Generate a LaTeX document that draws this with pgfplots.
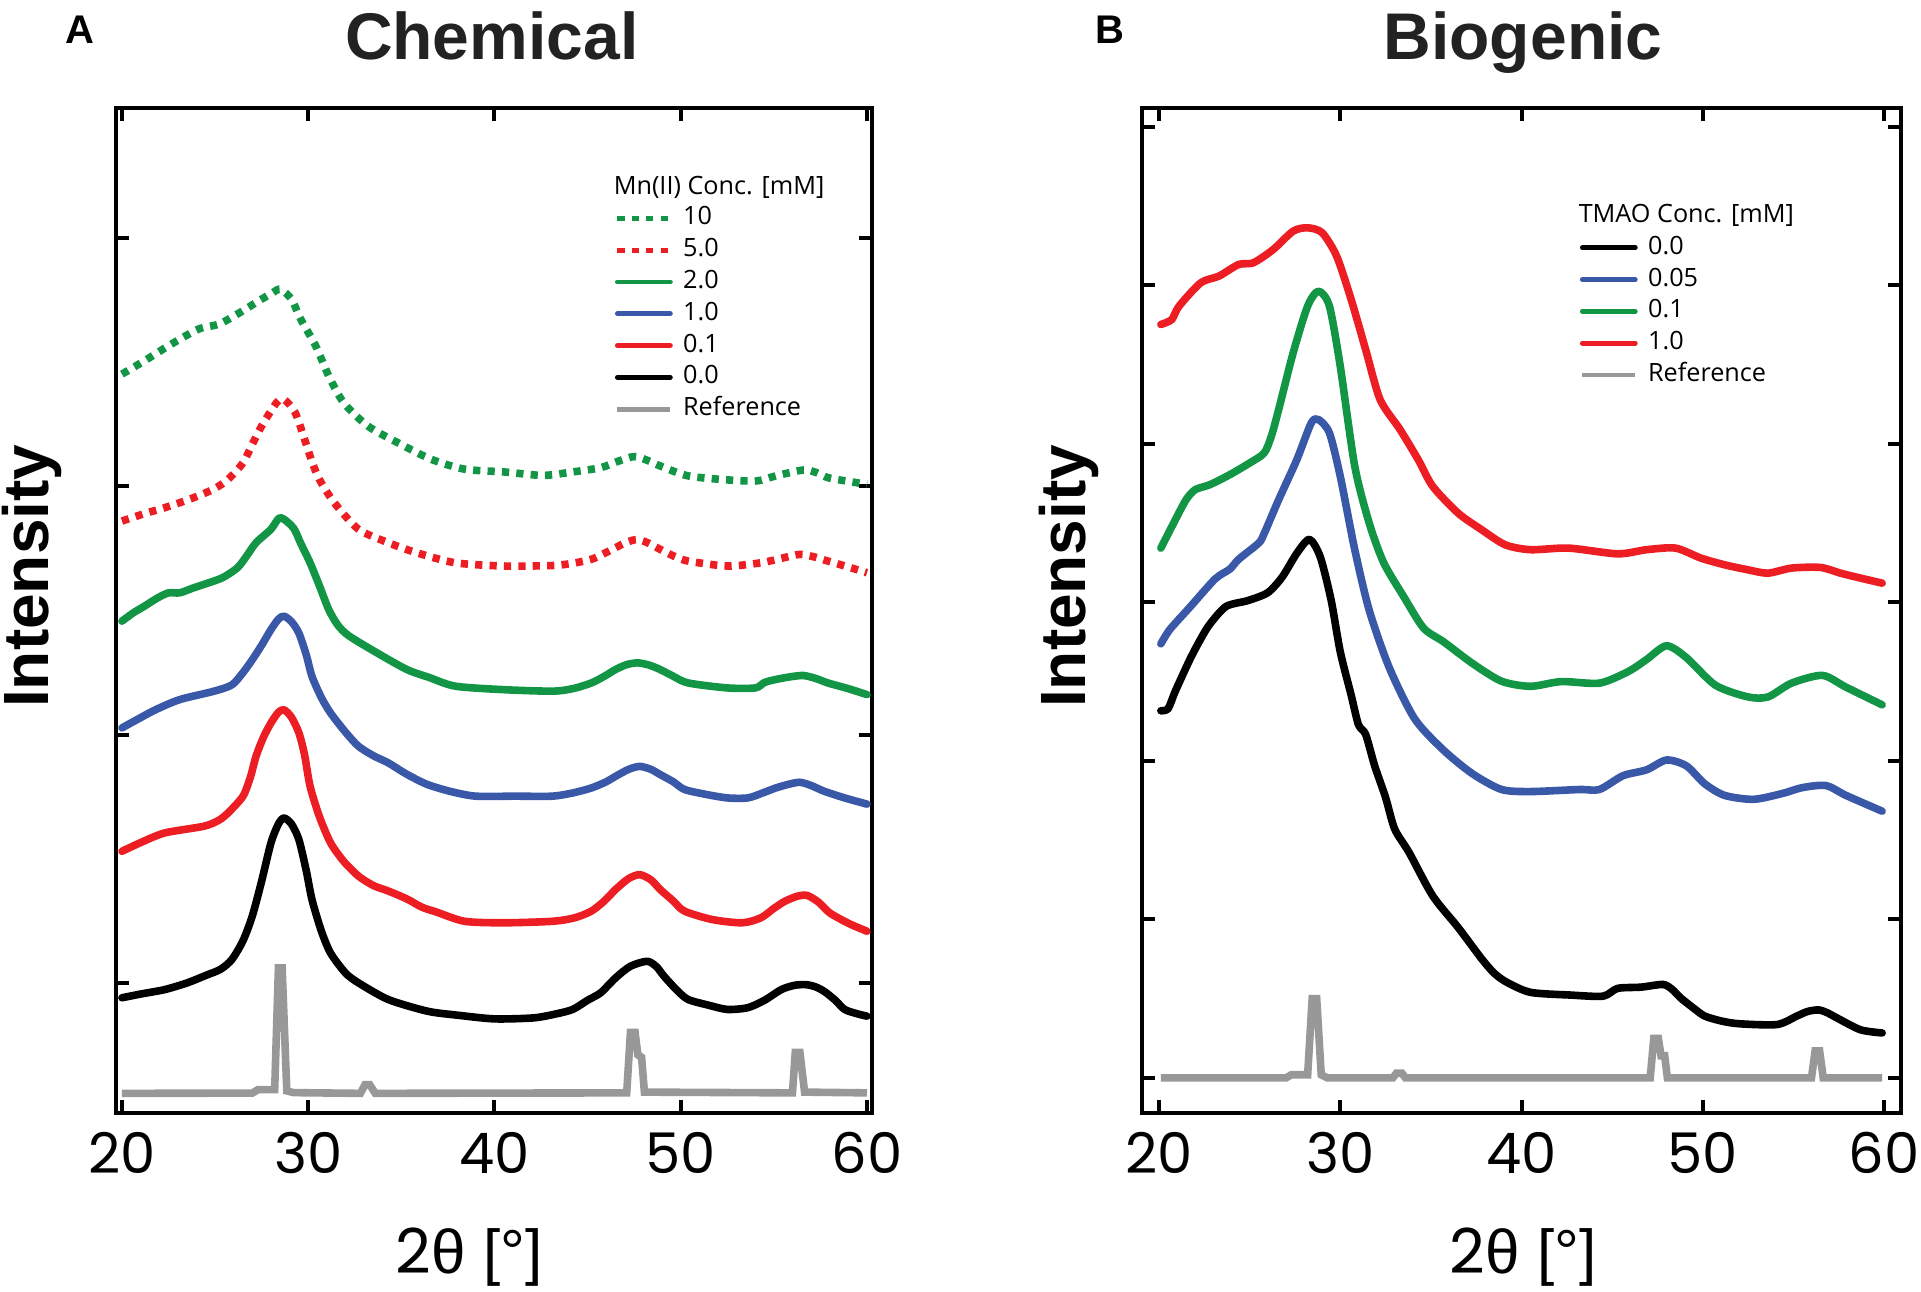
\documentclass[border=0pt]{standalone}
\usepackage{fontspec}
\usepackage{pgfplots}
\pgfplotsset{compat=1.18}
\newfontfamily\tickfont{Poppins}
\newfontfamily\legfont{Open Sans}
\newfontfamily\headfont{Liberation Sans}
\definecolor{cgreen}{RGB}{18,150,70}
\definecolor{cred}{RGB}{236,30,36}
\definecolor{cblue}{RGB}{58,88,168}
\definecolor{cgray}{RGB}{152,152,152}
\definecolor{ctitle}{RGB}{34,34,34}

\pgfplotsset{
  xrd/.style={
    scale only axis, width=189pt, height=251.25pt,
    axis line style={line width=1pt},
    major tick length=3.2pt,
    tick style={line width=1pt, black},
    xtick={20,30,40,50,60}, xticklabels={20,30,40,50,60},
    yticklabels={},
    xticklabel style={font=\tickfont\fontsize{14}{14}\selectfont, yshift=-1.3pt},
    ylabel={Intensity},
    ylabel style={font=\headfont\bfseries\fontsize{16}{16}\selectfont, anchor=center},
    xlabel={{\tickfont 2}{\headfont θ [°]}},
    xlabel style={font=\fontsize{15.5}{15.5}\selectfont, anchor=base, inner sep=0pt},
    title style={font=\headfont\bfseries\fontsize{16.5}{16.5}\selectfont, text=ctitle,
      anchor=base, inner sep=0pt, yshift=6pt},
    every axis plot/.append style={line width=1.9pt, line join=round, line cap=round},
    legend cell align=left,
    legend image code/.code={\draw[#1, line width=1.2pt] (0pt,0pt) -- (13.25pt,0pt);},
    legend style={draw=none, fill=none, inner sep=0pt, outer sep=0pt, row sep=0pt,
      font=\legfont\fontsize{6.3}{6.3}\selectfont,
      nodes={inner sep=0pt, text height=5.6pt, text depth=2.35pt},
      /tikz/every odd column/.append style={column sep=2.6pt}},
  },
  curve/.style={smooth, tension=0.45},
  dots/.style={smooth, tension=0.45, dash pattern=on 1.8pt off 1.8pt, line cap=butt},
  refline/.style={cgray, line width=1.9pt, line cap=butt, line join=miter},
}

\begin{document}
\begin{tikzpicture}
\path[use as bounding box] (0pt,0pt) rectangle (480.25pt,323pt);

% ---------------- A: Chemical ----------------
\begin{axis}[xrd, at={(29pt,44.75pt)}, anchor=south west,
  xmin=19.68, xmax=60.27, ymin=0.476, ymax=4.524, ytick={1,2,3,4},
  title={Chemical}, title style={at={(axis description cs:0.497,1)}},
  ylabel style={at={(axis description cs:-0.111,0.534)}},
  xlabel style={at={(axis description cs:0.467,-0.1602)}},
  legend style={at={(axis description cs:0.660,0.906)}, anchor=north west}]
\addplot[cgreen, dots] coordinates {
(20,3.452) (21.2,3.505) (22.5,3.566) (24.1,3.633) (25.2,3.653) (26.2,3.694)
(27.5,3.754) (28.1,3.78) (28.5,3.794) (29.1,3.754) (29.6,3.673) (30.4,3.566)
(31.1,3.445) (31.9,3.337) (33.2,3.243) (34.8,3.176) (36.6,3.109) (38.4,3.069)
(40.5,3.058) (42.6,3.044) (44.2,3.058) (45.7,3.075) (46.6,3.1) (47.5,3.12)
(48.2,3.105) (48.9,3.082) (50.4,3.042) (52.5,3.026) (54.1,3.022) (55.1,3.042)
(56.6,3.066) (57.3,3.055) (57.9,3.035) (59,3.02) (60,3.008)};
\addlegendentry{10}
\addplot[cred, dots] coordinates {
(20,2.86) (21.2,2.89) (22.3,2.914) (23.7,2.95) (24.9,2.988) (25.7,3.028)
(26.5,3.095) (27,3.17) (27.5,3.243) (28.3,3.337) (28.7,3.35) (29.3,3.297)
(29.8,3.19) (30.2,3.1) (30.6,3.028) (31.4,2.934) (32.7,2.827) (34.3,2.773)
(35.8,2.733) (37.9,2.692) (40.5,2.679) (43.1,2.681) (44.2,2.69) (45.2,2.706)
(45.9,2.73) (46.5,2.753) (47.1,2.775) (47.7,2.786) (48.3,2.77) (48.9,2.746)
(49.6,2.72) (50.4,2.699) (52.5,2.679) (54.3,2.692) (55.4,2.71) (56.4,2.726)
(57.2,2.715) (57.9,2.699) (59,2.675) (60,2.652)};
\addlegendentry{5.0}
\addplot[cgreen, curve] coordinates {
(20,2.457) (20.6,2.49) (21.2,2.517) (21.9,2.55) (22.5,2.571) (23.1,2.571)
(23.8,2.59) (24.4,2.605) (25.4,2.632) (26.2,2.672) (26.7,2.72) (27.2,2.773)
(28,2.827) (28.5,2.874) (29.2,2.833) (29.6,2.77) (30.1,2.692) (30.6,2.6)
(31.1,2.504) (31.6,2.44) (32.2,2.397) (33.7,2.329) (35.3,2.262) (36.5,2.23)
(37.9,2.195) (40.5,2.181) (43.1,2.175) (44.2,2.185) (45.2,2.208) (45.9,2.235)
(46.5,2.262) (47.1,2.282) (47.7,2.289) (48.3,2.28) (48.9,2.262) (49.6,2.235)
(50.4,2.208) (52.5,2.188) (54,2.188) (54.5,2.21) (55.1,2.222) (55.9,2.233)
(56.6,2.238) (57.3,2.225) (57.9,2.208) (59,2.185) (60,2.161)};
\addlegendentry{2.0}
\addplot[cblue, curve] coordinates {
(20,2.027) (20.8,2.06) (21.8,2.10) (23.1,2.141) (24.9,2.174) (25.9,2.2)
(26.5,2.25) (27,2.302) (27.5,2.36) (28,2.423) (28.4,2.465) (28.7,2.477)
(29.1,2.455) (29.5,2.409) (29.9,2.32) (30.2,2.235) (30.7,2.15) (31.2,2.087)
(32,2.01) (32.7,1.953) (33.5,1.915) (34.3,1.886) (35.3,1.84) (36.4,1.799)
(37.7,1.77) (39,1.752) (41.1,1.752) (43.1,1.752) (44.2,1.765) (45.2,1.785)
(46,1.81) (46.5,1.832) (47.2,1.86) (47.8,1.872) (48.4,1.86) (48.9,1.839)
(49.6,1.81) (50.2,1.779) (51.3,1.76) (52.5,1.745) (53.6,1.745) (54.4,1.765)
(55.1,1.785) (55.8,1.80) (56.4,1.808) (57,1.795) (57.7,1.772) (58.8,1.745)
(60,1.72)};
\addlegendentry{1.0}
\addplot[cred, curve] coordinates {
(20,1.53) (21,1.565) (22.3,1.604) (24.4,1.631) (25.2,1.655) (25.7,1.685)
(26.5,1.752) (26.9,1.83) (27.2,1.913) (27.6,1.99) (28,2.047) (28.4,2.09)
(28.7,2.10) (29.1,2.07) (29.5,2.007) (29.8,1.92) (30.1,1.792) (30.6,1.67)
(31.2,1.564) (31.9,1.49) (32.7,1.43) (33.5,1.392) (34.3,1.37) (35.3,1.338)
(36.1,1.305) (36.9,1.285) (38.4,1.248) (40.5,1.242) (43.1,1.248) (44.3,1.262)
(45.2,1.289) (45.9,1.33) (46.5,1.376) (47.2,1.42) (47.8,1.436) (48.4,1.415)
(48.9,1.376) (49.6,1.33) (50.2,1.289) (51.7,1.255) (53.3,1.242) (54.3,1.262)
(55,1.3) (55.6,1.329) (56.3,1.35) (56.8,1.352) (57.4,1.325) (58,1.282)
(59,1.24) (60,1.208)};
\addlegendentry{0.1}
\addplot[black, curve] coordinates {
(20,0.94) (21,0.955) (22.3,0.973) (23.5,1.0) (24.5,1.03) (25.3,1.055)
(25.9,1.094) (26.5,1.17) (27,1.27) (27.5,1.41) (28,1.564) (28.4,1.64)
(28.7,1.664) (29.1,1.64) (29.5,1.577) (29.9,1.45) (30.2,1.336) (30.7,1.21)
(31.2,1.12) (32,1.04) (32.7,1.0) (34.3,0.933) (36.4,0.886) (38,0.87)
(40,0.855) (42.1,0.859) (43.3,0.875) (44.2,0.893) (45,0.93) (45.7,0.96)
(46.5,1.02) (47.3,1.067) (48.2,1.087) (48.7,1.065) (49.1,1.027) (49.8,0.97)
(50.4,0.933) (51.5,0.91) (52.5,0.893) (53.6,0.9) (54.5,0.93) (55.4,0.973)
(56.1,0.99) (56.7,0.993) (57.2,0.985) (57.7,0.966) (58.3,0.93) (58.8,0.893)
(59.5,0.875) (60,0.866)};
\addlegendentry{0.0}
\addplot[refline] coordinates {
(20,0.555) (27,0.556) (27.3,0.57) (28.2,0.57) (28.4,1.06) (28.6,1.06)
(28.85,0.565) (29.2,0.558) (32.8,0.555) (33.05,0.59) (33.3,0.59) (33.6,0.555)
(47.1,0.557) (47.3,0.80) (47.55,0.80) (47.7,0.71) (47.9,0.70) (48.05,0.56)
(56.0,0.557) (56.15,0.72) (56.4,0.72) (56.65,0.56) (60,0.557)};
\addlegendentry{Reference}
\end{axis}

% ---------------- B: Biogenic ----------------
\begin{axis}[xrd, at={(285.5pt,44.75pt)}, anchor=south west,
  width=189.75pt,
  xmin=19.06, xmax=60.94, ymin=-0.221, ymax=6.12, ytick={0,1,2,3,4,5,6},
  title={Biogenic}, title style={at={(axis description cs:0.502,1)}},
  ylabel style={at={(axis description cs:-0.0962,0.534)}},
  xlabel style={at={(axis description cs:0.502,-0.1602)}},
  legend style={at={(axis description cs:0.577,0.8767)}, anchor=north west}]
\addplot[black, curve] coordinates {
(20.1,2.317) (20.5,2.33) (20.9,2.441) (21.7,2.64) (22.3,2.77) (22.8,2.863)
(23.7,2.975) (24.9,3.012) (26,3.062) (26.8,3.161) (27.6,3.31) (28.3,3.398)
(28.9,3.286) (29.5,3.012) (30,2.689) (30.6,2.416) (31,2.23) (31.4,2.168)
(31.9,1.969) (32.5,1.77) (33,1.571) (33.8,1.422) (35.1,1.149) (36.5,0.95)
(37.8,0.752) (38.5,0.66) (39.2,0.603) (40.5,0.54) (42.7,0.523) (44.5,0.516)
(45.3,0.565) (46.6,0.573) (47.8,0.59) (48.3,0.56) (48.8,0.503) (49.5,0.44)
(50.1,0.391) (51,0.36) (52,0.342) (54.1,0.337) (55.2,0.391) (55.8,0.42)
(56.4,0.429) (56.9,0.41) (57.4,0.379) (58.7,0.304) (59.9,0.284)};
\addlegendentry{0.0}
\addplot[cblue, curve] coordinates {
(20.1,2.739) (20.6,2.83) (21.7,2.97) (23.1,3.149) (23.9,3.21) (24.4,3.273)
(25.5,3.375) (25.8,3.435) (26.6,3.648) (27.6,3.9) (28.4,4.133) (28.8,4.154)
(29.4,4.07) (30,3.796) (30.8,3.333) (31.6,2.95) (32.7,2.59) (34.1,2.267)
(35.7,2.068) (37.3,1.919) (38.9,1.82) (40.5,1.807) (43.2,1.82) (44.3,1.82)
(45.6,1.907) (46.9,1.944) (48,2.006) (49.1,1.969) (50.1,1.857) (51.2,1.783)
(52.8,1.758) (54.4,1.795) (55.5,1.832) (56.8,1.845) (57.9,1.783) (59.9,1.683)};
\addlegendentry{0.05}
\addplot[cgreen, curve] coordinates {
(20.1,3.343) (20.9,3.522) (21.5,3.65) (22,3.712) (22.8,3.743) (23.9,3.806)
(25,3.88) (25.8,3.943) (26.2,4.05) (26.6,4.217) (27.4,4.575) (28.2,4.87)
(28.8,4.964) (29.4,4.87) (30,4.49) (30.8,3.859) (31.6,3.5) (32.4,3.25)
(33.5,3.037) (34.6,2.838) (35.7,2.752) (37.3,2.615) (38.9,2.503) (40.5,2.471)
(42.2,2.501) (44.3,2.491) (45.9,2.565) (46.9,2.64) (48,2.727) (49.1,2.652)
(50.7,2.478) (52.5,2.404) (53.6,2.404) (54.9,2.491) (56.6,2.54) (57.9,2.466)
(59.9,2.354)};
\addlegendentry{0.1}
\addplot[cred, curve] coordinates {
(20.1,4.754) (20.7,4.785) (21.1,4.869) (22.3,5.017) (23.3,5.059) (24.4,5.133)
(25.2,5.143) (26.3,5.227) (27.4,5.343) (28.2,5.364) (29,5.333) (29.8,5.185)
(30.6,4.912) (31.4,4.596) (32.2,4.28) (33.3,4.091) (34.3,3.901) (35.1,3.733)
(36.5,3.564) (37.8,3.459) (39.1,3.364) (40.5,3.333) (42.6,3.343) (45.3,3.307)
(46.9,3.333) (48.5,3.343) (49.9,3.28) (51.2,3.238) (52.5,3.206) (53.6,3.185)
(54.9,3.217) (56.5,3.221) (57.6,3.185) (58.7,3.154) (59.9,3.122)};
\addlegendentry{1.0}
\addplot[refline] coordinates {
(20.1,0) (27,0) (27.3,0.02) (28.2,0.02) (28.45,0.5) (28.7,0.5) (28.95,0.02)
(29.3,0) (32.9,0) (33.1,0.03) (33.4,0.03) (33.6,0) (47.1,0) (47.3,0.25)
(47.55,0.25) (47.7,0.14) (47.9,0.14) (48.05,0) (56.0,0) (56.2,0.17) (56.45,0.17)
(56.65,0) (59.9,0)};
\addlegendentry{Reference}
\end{axis}

% panel letters and legend headings
\node[font=\headfont\bfseries\fontsize{10}{10}\selectfont, inner sep=0pt] at (20pt,315.5pt) {A};
\node[font=\headfont\bfseries\fontsize{10}{10}\selectfont, inner sep=0pt] at (277.5pt,315.5pt) {B};
\node[font=\legfont\fontsize{6.3}{6.3}\selectfont, inner sep=0pt, anchor=base west] at (153.25pt,274.4pt) {Mn(II) Conc. [mM]};
\node[font=\legfont\fontsize{6.3}{6.3}\selectfont, inner sep=0pt, anchor=base west] at (394.5pt,267.4pt) {TMAO Conc. [mM]};
\end{tikzpicture}
\end{document}
